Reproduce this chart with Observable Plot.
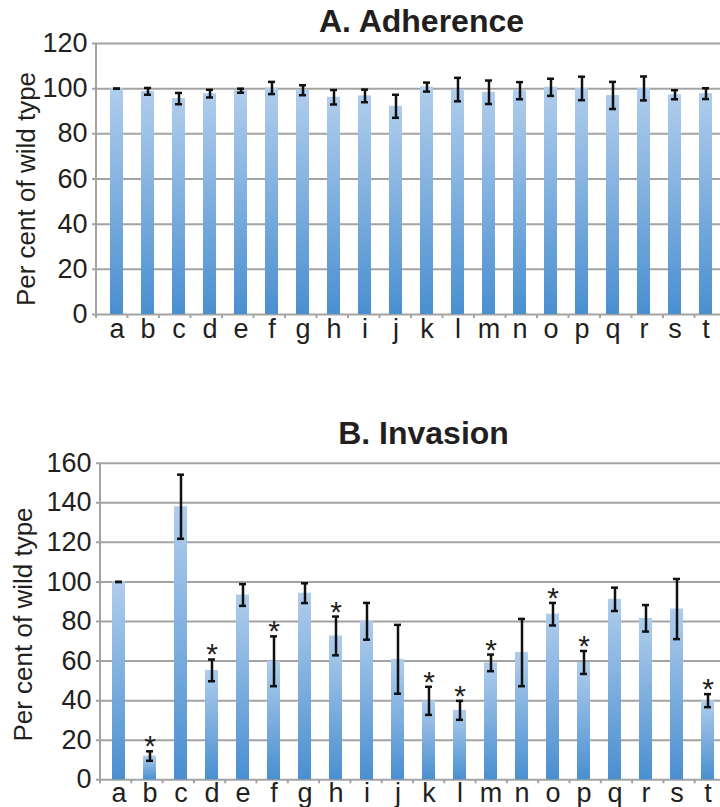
<!DOCTYPE html>
<html><head><meta charset="utf-8">
<script src="https://cdn.jsdelivr.net/npm/d3@7"></script>
<script src="https://cdn.jsdelivr.net/npm/@observablehq/plot@0.6"></script>
<style>
html,body{margin:0;padding:0;background:#fff;overflow:hidden;}
#chart svg{display:block;}
</style></head><body><div id="chart"></div>
<script>
const categories = ["a","b","c","d","e","f","g","h","i","j","k","l","m","n","o","p","q","r","s","t"];
const adherenceMean = [100, 98.8, 95.6, 97.8, 99.1, 100.3, 99.3, 96.2, 96.8, 92.2, 100.7, 99.6, 98.4, 99.1, 100.6, 100.1, 97, 100.1, 97.3, 97.8];
const adherenceErr  = [0, 1.5, 2.5, 1.7, 0.9, 2.7, 2.2, 3.2, 2.8, 5.1, 2.0, 5.2, 5.2, 3.8, 3.8, 5.2, 6, 5.3, 2, 2.4];
const invasionMean = [100, 12, 138, 55.3, 93.4, 59.9, 94.3, 72.7, 80.1, 60.9, 39.9, 35.1, 59.1, 64.3, 83.7, 59.3, 91.2, 81.6, 86.3, 40];
const invasionErr  = [0, 2.4, 16.2, 5.5, 5.5, 12.6, 5, 9.8, 9.3, 17.4, 7.1, 4.8, 4.2, 17, 5.7, 5.8, 5.9, 6.7, 15.2, 3.3];
const invasionSignificant = ["b","d","f","h","k","l","m","o","p","t"];
const adherenceTicks = [0, 20, 40, 60, 80, 100, 120];
const invasionTicks = [0, 20, 40, 60, 80, 100, 120, 140, 160];
const yLabel = "Per cent of wild type";
const titleA = "A. Adherence";
const titleB = "B. Invasion";

const gridColor = "#a3a3a3";
const textColor = "#231f20";
const font = "'Liberation Sans', Arial, Helvetica, sans-serif";

function panel(o) {
  const data = categories.map((c, i) => ({cat: c, mean: o.means[i], err: o.errs[i], sig: o.sig.includes(c)}));
  const defs = () => {
    const g = d3.create("svg:g");
    const lg = g.append("defs").append("linearGradient").attr("id", o.id)
      .attr("x1", 0).attr("y1", 0).attr("x2", 0).attr("y2", 1);
    lg.append("stop").attr("offset", "0%").attr("stop-color", "#b0cdec");
    lg.append("stop").attr("offset", "100%").attr("stop-color", "#4a8fd0");
    return g.node();
  };
  const leftLine = (index, scales, values, dim) => d3.create("svg:line")
    .attr("x1", dim.marginLeft).attr("x2", dim.marginLeft)
    .attr("y1", dim.marginTop).attr("y2", dim.height - dim.marginBottom + 4)
    .attr("stroke", gridColor).attr("stroke-width", 2).node();
  const bandTicks = (index, scales, values, dim) => {
    const g = d3.create("svg:g").attr("stroke", gridColor).attr("stroke-width", 2);
    const n = categories.length;
    const step = (dim.width - dim.marginLeft - dim.marginRight) / n;
    const yb = dim.height - dim.marginBottom;
    for (let i = 0; i <= n; i++) {
      const x = dim.marginLeft + i * step;
      g.append("line").attr("x1", x).attr("x2", x).attr("y1", yb).attr("y2", yb + 4);
    }
    return g.node();
  };
  const top = o.ticks[o.ticks.length - 1];
  return Plot.plot({
    width: 720,
    height: o.height,
    marginTop: o.marginTop,
    marginBottom: o.marginBottom,
    marginLeft: o.marginLeft,
    marginRight: -6,
    style: {fontFamily: font, color: textColor, background: "transparent", fontSize: "27px"},
    x: {domain: categories, paddingInner: 0.58, paddingOuter: 0.29},
    y: {domain: [0, top]},
    marks: [
      defs,
      Plot.ruleY(o.ticks, {y: d => d, stroke: gridColor, strokeWidth: 2, insetLeft: -4}),
      leftLine,
      bandTicks,
      Plot.axisY(o.ticks, {tickSize: 0, tickPadding: 9, fontSize: 27, label: null, fill: textColor}),
      Plot.axisX({tickSize: 0, tickPadding: o.xPad, fontSize: 27, label: null, fill: textColor}),
      Plot.barY(data, {x: "cat", y: "mean", fill: `url(#${o.id})`}),
      Plot.ruleX(data, {x: "cat", y1: d => d.mean - d.err, y2: d => d.mean + d.err, stroke: "#111", strokeWidth: 2.5}),
      Plot.tickY(data, {x: "cat", y: d => d.mean + d.err, insetLeft: 3, insetRight: 3, stroke: "#111", strokeWidth: 2.5}),
      Plot.tickY(data, {x: "cat", y: d => d.mean - d.err, insetLeft: 3, insetRight: 3, stroke: "#111", strokeWidth: 2.5}),
      Plot.text(data.filter(d => d.sig), {x: "cat", y: d => d.mean + d.err, text: () => "*", lineAnchor: "bottom", dy: 5, fontSize: 30, fill: textColor}),
      Plot.text([o.title], {frameAnchor: "top", textAnchor: "middle", lineAnchor: "bottom", dx: 10, dy: o.titleDy, fontSize: 32, fontWeight: "bold", fill: textColor}),
      Plot.text([yLabel], {frameAnchor: "left", textAnchor: "middle", rotate: -90, dx: o.labelDx, dy: o.labelDy, fontSize: 26, fill: textColor})
    ]
  });
}

const chart = document.getElementById("chart");
chart.append(panel({
  id: "gradA", title: titleA, means: adherenceMean, errs: adherenceErr, sig: [], ticks: adherenceTicks,
  height: 400, marginTop: 43, marginBottom: 86, marginLeft: 96, xPad: 4, titleDy: -11.5, labelDx: -70, labelDy: 10
}));
chart.append(panel({
  id: "gradB", title: titleB, means: invasionMean, errs: invasionErr, sig: invasionSignificant, ticks: invasionTicks,
  height: 407, marginTop: 62.7, marginBottom: 27.7, marginLeft: 100, xPad: 3, titleDy: -19.5, labelDx: -77, labelDy: 3
}));
</script></body></html>
